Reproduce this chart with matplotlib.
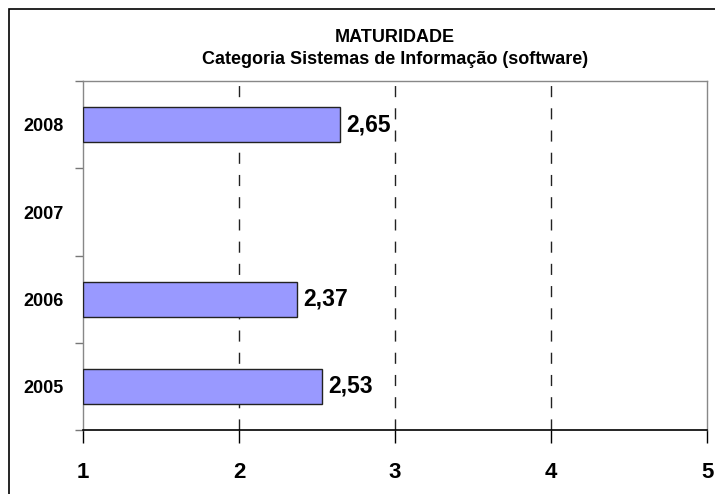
import matplotlib
matplotlib.use("Agg")
import matplotlib.pyplot as plt
from matplotlib.patches import Rectangle

plt.rcParams['font.family'] = ['Liberation Sans', 'DejaVu Sans']

anos = ['2005', '2006', '2007', '2008']
valores = [2.53, 2.37, None, 2.65]
rotulos = ['2,53', '2,37', '', '2,65']
x_ticks = [1, 2, 3, 4, 5]

fig = plt.figure(figsize=(7.15, 4.94), dpi=100)
ax = fig.add_axes([0.116, 0.1296, 0.873, 0.706])

# moldura externa do grafico
fig.patches.append(Rectangle((9 / 715, -0.05), 1.1, 1 - 9 / 494 + 0.05,
                             transform=fig.transFigure, fill=False,
                             edgecolor='black', linewidth=1.2))

pos = list(range(len(anos)))
for i, v in enumerate(valores):
    if v is None:
        continue
    ax.barh(i, v - 1, left=1, height=0.4, color='#9999FF',
            edgecolor='#222222', linewidth=1, zorder=3)
    ax.text(v + 0.04, i, rotulos[i], va='center', ha='left',
            fontsize=16.5, fontweight='bold')

ax.set_xlim(1, 5)
ax.set_ylim(-0.5, 3.5)

for x in x_ticks[1:-1]:
    ax.axvline(x, color='#222222', linestyle=(0, (8, 8)), linewidth=1, zorder=1)

ax.set_xticks(x_ticks)
ax.set_xticklabels([str(t) for t in x_ticks], fontsize=16, fontweight='bold')
ax.tick_params(axis='x', direction='out', length=9, width=1, pad=14, color='black')

ax.set_yticks(pos)
ax.set_yticklabels(anos, fontsize=13, fontweight='bold')
ax.tick_params(axis='y', length=0, pad=14)
ax.set_yticks([p + 0.5 for p in [-1] + pos], minor=True)
ax.tick_params(axis='y', which='minor', length=6, width=1, color='#777777')

ax.spines['bottom'].set_color('black')
ax.spines['bottom'].set_linewidth(1.2)
for s in ['top', 'right', 'left']:
    ax.spines[s].set_color('#888888')
    ax.spines[s].set_linewidth(1)

fig.text(0.552, 1 - 37 / 494, 'MATURIDADE', ha='center', va='center',
         fontsize=13, fontweight='bold')
fig.text(0.552, 1 - 60 / 494, 'Categoria Sistemas de Informação (software)',
         ha='center', va='center', fontsize=13, fontweight='bold')

fig.savefig('out.png', dpi=100)
